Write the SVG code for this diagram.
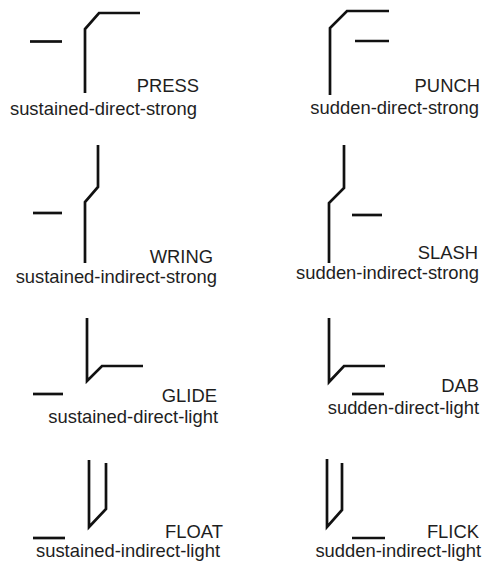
<svg xmlns="http://www.w3.org/2000/svg" width="483" height="564" viewBox="0 0 483 564">
<style>
.ln{fill:none;stroke:#111;stroke-width:2.7;stroke-linejoin:miter;stroke-linecap:butt}
text{font-family:"Liberation Sans",Arial,Helvetica,sans-serif;font-size:18.4px;fill:#1e1e1e;text-anchor:end}
</style>
<rect width="483" height="564" fill="#fff"/>
<g id="press">
<path class="ln" d="M30,41.5H62"/>
<path class="ln" d="M85,93V29L99,13H140"/>
<text x="199" y="92">PRESS</text>
<text x="197" y="115">sustained-direct-strong</text>
</g>
<g id="punch">
<path class="ln" d="M330,95V28L347,11H389"/>
<path class="ln" d="M355,41H389"/>
<text x="480" y="92">PUNCH</text>
<text x="479" y="114">sudden-direct-strong</text>
</g>
<g id="wring">
<path class="ln" d="M98,145V187L85,202V263"/>
<path class="ln" d="M33,213H62"/>
<text x="213" y="263">WRING</text>
<text x="217" y="283">sustained-indirect-strong</text>
</g>
<g id="slash">
<path class="ln" d="M344,145V188L329,203V263"/>
<path class="ln" d="M352,215H382"/>
<text x="478" y="259">SLASH</text>
<text x="479" y="279">sudden-indirect-strong</text>
</g>
<g id="glide">
<path class="ln" d="M87,318V381L102,366H143"/>
<path class="ln" d="M33,394H63"/>
<text x="217" y="402">GLIDE</text>
<text x="218" y="423">sustained-direct-light</text>
</g>
<g id="dab">
<path class="ln" d="M329,318V382L344,366H385"/>
<path class="ln" d="M352,394H384"/>
<text x="479" y="392">DAB</text>
<text x="479" y="414">sudden-direct-light</text>
</g>
<g id="float">
<path class="ln" d="M89,460V527L106,509V463"/>
<path class="ln" d="M33,538H65"/>
<text x="223" y="538">FLOAT</text>
<text x="220" y="557">sustained-indirect-light</text>
</g>
<g id="flick">
<path class="ln" d="M327,459V527L342,510V463"/>
<path class="ln" d="M352,538H385"/>
<text x="479" y="538">FLICK</text>
<text x="481" y="557">sudden-indirect-light</text>
</g>
</svg>
